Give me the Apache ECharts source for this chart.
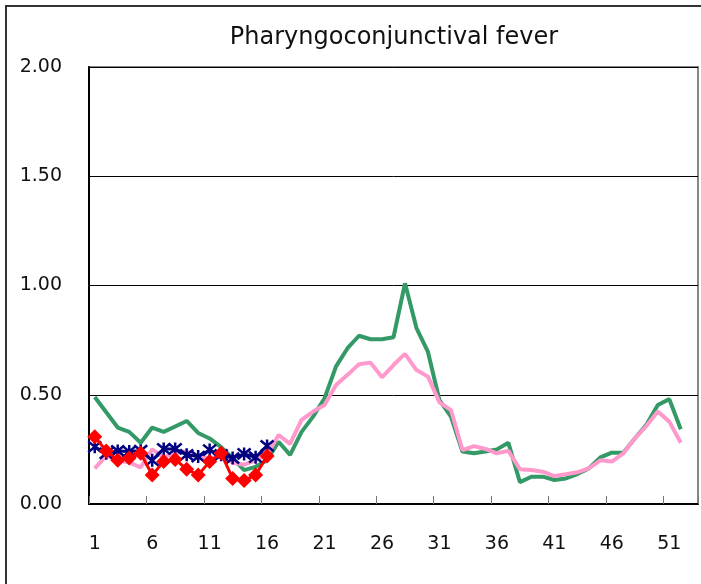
<!DOCTYPE html>
<html>
<head>
<meta charset="utf-8">
<script src="https://cdn.jsdelivr.net/npm/echarts@6/dist/echarts.min.js"></script>
<style>html,body{margin:0;padding:0;background:#fff;}#c{width:701px;height:584px;}</style>
</head>
<body>
<div id="c"></div>
<script>
const titleText = 'Pharyngoconjunctival fever';
const weeks = ['1','2','3','4','5','6','7','8','9','10','11','12','13','14','15','16','17','18','19','20','21','22','23','24','25','26','27','28','29','30','31','32','33','34','35','36','37','38','39','40','41','42','43','44','45','46','47','48','49','50','51','52','53'];
const yTicks = [0, 0.5, 1.0, 1.5, 2.0];
const greenSeries = [0.49,0.42,0.35,0.33,0.28,0.35,0.33,0.355,0.38,0.325,0.30,0.26,0.21,0.155,0.17,0.20,0.285,0.225,0.33,0.40,0.484,0.63,0.713,0.77,0.754,0.754,0.763,1.01,0.805,0.696,0.475,0.40,0.24,0.232,0.24,0.25,0.28,0.10,0.125,0.125,0.11,0.117,0.137,0.163,0.213,0.235,0.235,0.30,0.362,0.453,0.48,0.342,null];
const pinkSeries = [0.163,0.22,0.20,0.19,0.168,0.25,0.214,0.235,0.24,0.217,0.21,0.217,0.19,0.18,0.20,0.225,0.316,0.275,0.385,0.423,0.453,0.545,0.591,0.64,0.647,0.58,0.636,0.687,0.613,0.583,0.465,0.43,0.247,0.265,0.252,0.232,0.243,0.159,0.156,0.148,0.128,0.136,0.145,0.163,0.20,0.194,0.232,0.30,0.357,0.423,0.377,0.28,null];
const blueSeries = [0.262,0.232,0.243,0.24,0.244,0.20,0.252,0.252,0.225,0.217,0.247,0.225,0.21,0.229,0.214,0.266];
const redSeries = [0.308,0.243,0.20,0.21,0.232,0.133,0.194,0.204,0.159,0.133,0.194,0.232,0.117,0.107,0.133,0.22];

const FONT = 'DejaVu Sans';
const chart = echarts.init(document.getElementById('c'), null, {renderer: 'canvas'});
chart.setOption({
  animation: false,
  backgroundColor: '#fff',
  grid: {left: 89, right: 3, top: 67, bottom: 80, show: true, borderColor: '#888', borderWidth: 2, backgroundColor: 'transparent'},
  graphic: [
    {type: 'rect', shape: {x: 6, y: 6, width: 760, height: 640}, style: {fill: 'none', stroke: '#333', lineWidth: 2}, silent: true},
    {type: 'text', x: 394, y: 38, style: {text: titleText, fontFamily: FONT, fontSize: 24, fill: '#111', textAlign: 'center', textVerticalAlign: 'middle'}}
  ],
  xAxis: {
    type: 'category', data: weeks, boundaryGap: true,
    axisLine: {lineStyle: {color: '#000', width: 2}},
    axisTick: {show: true, inside: true, length: 8, interval: 4, lineStyle: {color: '#777', width: 1}},
    axisLabel: {interval: 4, margin: 31, fontFamily: FONT, fontSize: 19, color: '#111'}
  },
  yAxis: {
    type: 'value', min: yTicks[0], max: yTicks[yTicks.length - 1], interval: 0.5,
    axisLine: {show: true, lineStyle: {color: '#000', width: 2}},
    axisTick: {show: false},
    splitLine: {show: true, lineStyle: {color: '#000', width: 1}},
    axisLabel: {margin: 27, fontFamily: FONT, fontSize: 19, color: '#111', formatter: v => v.toFixed(2)}
  },
  series: [
    {type: 'line', data: greenSeries, showSymbol: false, symbol: 'none', lineStyle: {color: '#339966', width: 4}, z: 2},
    {type: 'line', data: pinkSeries, showSymbol: false, symbol: 'none', lineStyle: {color: '#FF99CC', width: 4}, z: 3},
    {type: 'line', data: blueSeries, showAllSymbol: true, symbol: 'path://M0,0L10,10M10,0L0,10M5,-1L5,11', symbolSize: 13,
      itemStyle: {color: 'rgba(0,0,0,0)', borderColor: '#000080', borderWidth: 2.5},
      lineStyle: {color: '#000080', width: 3}, z: 4},
    {type: 'line', data: redSeries, showAllSymbol: true, symbol: 'diamond', symbolSize: 15,
      itemStyle: {color: '#FF0000'}, lineStyle: {color: '#FF0000', width: 3}, z: 5}
  ]
});
</script>
</body>
</html>
